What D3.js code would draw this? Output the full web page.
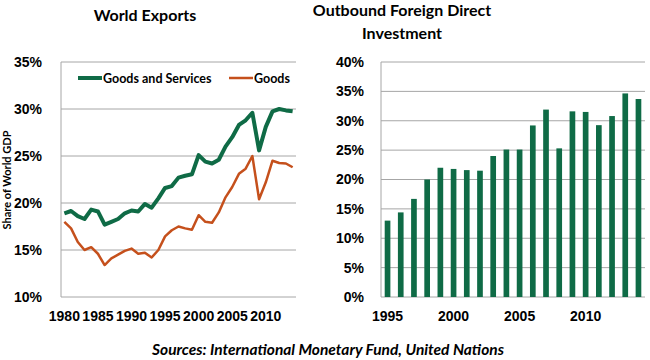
<!DOCTYPE html>
<html>
<head>
<meta charset="utf-8">
<script src="https://cdn.jsdelivr.net/npm/d3@7"></script>
<style>
  body { margin: 0; background: #fff; }
  svg { font-family: Lato, "Open Sans", sans-serif; font-weight: bold; }
  .grid line { stroke: #a6a6a6; stroke-width: 1; }
  .tick text { fill: #000; }
</style>
</head>
<body>
<svg id="canvas" width="650" height="360"></svg>
<script>
// Data
const exportYears = d3.range(1980, 2015);
const goodsAndServices = [18.9, 19.15, 18.6, 18.3, 19.3, 19.1, 17.7, 18.0, 18.3, 18.9,
  19.2, 19.1, 19.9, 19.5, 20.5, 21.6, 21.8, 22.7, 22.9, 23.05,
  25.1, 24.4, 24.2, 24.6, 26.0, 27.0, 28.3, 28.8, 29.6, 25.6,
  28.1, 29.75, 30.0, 29.85, 29.75];
const goods = [18.0, 17.3, 15.85, 15.0, 15.3, 14.6, 13.4, 14.1, 14.5, 14.9,
  15.15, 14.6, 14.7, 14.2, 15.0, 16.45, 17.1, 17.5, 17.3, 17.15,
  18.7, 18.0, 17.9, 19.0, 20.6, 21.7, 23.1, 23.65, 25.0, 20.4,
  22.2, 24.5, 24.25, 24.2, 23.8];
const exportTicks = [10, 15, 20, 25, 30, 35];
const exportYearLabels = [1980, 1985, 1990, 1995, 2000, 2005, 2010];

const fdiYears = d3.range(1995, 2015);
const fdiValues = [13.0, 14.4, 16.7, 20.0, 22.0, 21.8, 21.6, 21.5, 24.0, 25.1,
  25.1, 29.2, 31.9, 25.3, 31.6, 31.5, 29.25, 30.8, 34.65, 33.7];
const fdiTicks = [0, 5, 10, 15, 20, 25, 30, 35, 40];
const fdiYearLabels = [1995, 2000, 2005, 2010];

const green = "#0f6b46";
const orange = "#c5501c";

const svg = d3.select("#canvas");

// --- Left chart: World Exports ---
const left = { x0: 61, x1: 296, y0: 297, y1: 62 };
const xL = d3.scaleBand().domain(exportYears).range([left.x0, left.x1]);
const yL = d3.scaleLinear().domain([10, 35]).range([left.y0, left.y1]);

svg.append("g").attr("class", "grid")
  .selectAll("line").data(exportTicks).enter().append("line")
  .attr("x1", left.x0).attr("x2", left.x1)
  .attr("y1", d => yL(d)).attr("y2", d => yL(d));

svg.append("line")
  .attr("x1", left.x0).attr("x2", left.x0)
  .attr("y1", left.y1).attr("y2", left.y0)
  .attr("stroke", "#a6a6a6");

svg.append("g")
  .attr("transform", `translate(${left.x0 - 16},0)`)
  .call(d3.axisLeft(yL).tickValues(exportTicks).tickFormat(d => d + "%").tickSize(0))
  .call(g => g.select(".domain").remove())
  .selectAll("text").attr("font-size", 14).attr("dx", 0);

svg.append("g")
  .attr("transform", `translate(0,${left.y0 + 11})`)
  .call(d3.axisBottom(xL).tickValues(exportYearLabels).tickSize(0))
  .call(g => g.select(".domain").remove())
  .selectAll("text").attr("font-size", 14);

const lineL = d3.line()
  .x((d, i) => xL(exportYears[i]) + xL.bandwidth() / 2)
  .y(d => yL(d));

svg.append("path").datum(goods)
  .attr("d", lineL).attr("fill", "none")
  .attr("stroke", orange).attr("stroke-width", 2.5).attr("stroke-linejoin", "round");

svg.append("path").datum(goodsAndServices)
  .attr("d", lineL).attr("fill", "none")
  .attr("stroke", green).attr("stroke-width", 4).attr("stroke-linejoin", "round");

// legend
const legend = [
  { name: "Goods and Services", color: green, w: 4, x: 78 },
  { name: "Goods", color: orange, w: 2.5, x: 229 }
];
legend.forEach(l => {
  svg.append("line")
    .attr("x1", l.x).attr("x2", l.x + 24).attr("y1", 78).attr("y2", 78)
    .attr("stroke", l.color).attr("stroke-width", l.w);
  svg.append("text")
    .attr("x", l.x + 25).attr("y", 82.5)
    .attr("font-size", 12.5).text(l.name);
});

svg.append("text")
  .attr("transform", "translate(11,180) rotate(-90)")
  .attr("text-anchor", "middle").attr("font-size", 11)
  .text("Share of World GDP");

svg.append("text")
  .attr("x", 145).attr("y", 21).attr("text-anchor", "middle")
  .attr("font-size", 16).text("World Exports");

// --- Right chart: Outbound FDI ---
const right = { x0: 381, x1: 645, y0: 297, y1: 62 };
const xR = d3.scaleBand().domain(fdiYears).range([right.x0, right.x1]).paddingInner(0.57).paddingOuter(0.28);
const yR = d3.scaleLinear().domain([0, 40]).range([right.y0, right.y1]);

svg.append("g").attr("class", "grid")
  .selectAll("line").data(fdiTicks).enter().append("line")
  .attr("x1", right.x0).attr("x2", right.x1)
  .attr("y1", d => yR(d)).attr("y2", d => yR(d));

svg.append("line")
  .attr("x1", right.x0).attr("x2", right.x0)
  .attr("y1", right.y1).attr("y2", right.y0)
  .attr("stroke", "#a6a6a6");

svg.append("g")
  .attr("transform", `translate(${right.x0 - 14},0)`)
  .call(d3.axisLeft(yR).tickValues(fdiTicks).tickFormat(d => d + "%").tickSize(0))
  .call(g => g.select(".domain").remove())
  .selectAll("text").attr("font-size", 14);

svg.selectAll(".bar")
  .data(fdiValues)
  .enter()
  .append("rect")
  .attr("class", "bar")
  .attr("x", (d, i) => xR(fdiYears[i]))
  .attr("width", xR.bandwidth())
  .attr("y", d => yR(d))
  .attr("height", d => yR(0) - yR(d))
  .attr("fill", green);

svg.append("g")
  .attr("transform", `translate(0,${right.y0 + 11})`)
  .call(d3.axisBottom(xR).tickValues(fdiYearLabels).tickSize(0))
  .call(g => g.select(".domain").remove())
  .selectAll("text").attr("font-size", 14);

svg.append("text")
  .attr("x", 402).attr("y", 16).attr("text-anchor", "middle")
  .attr("font-size", 16).text("Outbound Foreign Direct");
svg.append("text")
  .attr("x", 402).attr("y", 39).attr("text-anchor", "middle")
  .attr("font-size", 16).text("Investment");

// source note
svg.append("text")
  .attr("x", 328).attr("y", 355).attr("text-anchor", "middle")
  .attr("font-size", 15.5).attr("font-style", "italic")
  .text("Sources: International Monetary Fund, United Nations");
</script>
</body>
</html>
